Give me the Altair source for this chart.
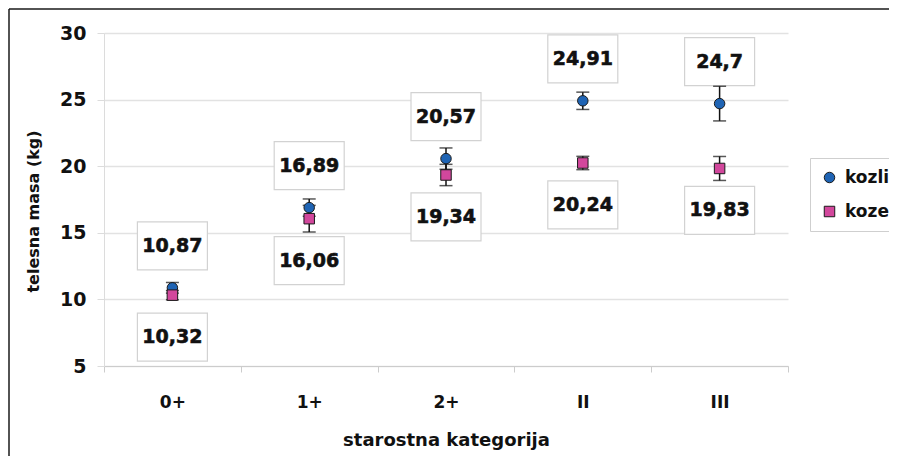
import altair as alt
import pandas as pd

categories = ["0+", "1+", "2+", "II", "III"]
series_names = ["kozli", "koze"]
kozli_mean = [10.87, 16.89, 20.57, 24.91, 24.70]
kozli_err = [0.40, 0.65, 0.80, 0.65, 1.30]
koze_mean = [10.32, 16.06, 19.34, 20.24, 19.83]
koze_err = [0.35, 1.00, 0.80, 0.50, 0.90]
y_ticks = [5, 10, 15, 20, 25, 30]
colors = ["#1f64b4", "#d2479c"]
shapes = ["circle", "square"]

rows = []
for s, means, errs, side in [("kozli", kozli_mean, kozli_err, 1), ("koze", koze_mean, koze_err, -1)]:
    for c, m, e in zip(categories, means, errs):
        rows.append(dict(cat=c, series=s, mean=m, lo=m - e, hi=m + e,
                         label=f"{m:g}".replace(".", ","), side=side))
df = pd.DataFrame(rows)

FONT = "DejaVu Sans"
W, H = 684, 333

x_enc = alt.X("cat:N", sort=categories, title="starostna kategorija",
              axis=alt.Axis(labelAngle=0, tickBand="extent", grid=False,
                            labelFontSize=17, labelFontWeight="bold", labelPadding=22,
                            tickSize=6, tickColor="#cccccc", domainColor="#cccccc",
                            titleFontSize=18, titleFontWeight="bold",
                            titleY=74, titleBaseline="middle"))
y_scale = alt.Scale(domain=[5, 30], nice=False, zero=False)
y_axis = alt.Axis(values=y_ticks, title="telesna masa (kg)", labelFontSize=19,
                  labelFontWeight="bold", labelPadding=11, tickSize=7,
                  tickColor="#dcdcdc", domainColor="#dcdcdc", gridColor="#e2e2e2",
                  gridWidth=1.5, titleFontSize=16, titleFontWeight="bold",
                  titleX=-71, titleY=178, titleAngle=-90, titleBaseline="middle",
                  titleAlign="center")

base = alt.Chart(df)
one = base.transform_filter("datum.cat == '0+' && datum.series == 'kozli'")

frame_top = one.mark_rule(color="#1a1a1a", strokeWidth=1.5).encode(
    x=alt.value(-95), x2=alt.value(785), y=alt.value(-24))
frame_left = one.mark_rule(color="#1a1a1a", strokeWidth=1.5).encode(
    x=alt.value(-95), y=alt.value(-24), y2=alt.value(600))

lab = base.transform_calculate(lab_y="datum.mean + datum.side * 3.15")

boxes = lab.mark_point(shape="M-1,-0.686L1,-0.686L1,0.686L-1,0.686Z", size=4900,
                       filled=True, fill="white", stroke="#d2d2d2", strokeWidth=1.2,
                       opacity=1).encode(
    x=x_enc, y=alt.Y("lab_y:Q", scale=y_scale, axis=y_axis))

texts = lab.mark_text(font=FONT, fontSize=19, fontWeight="bold", color="#111111",
                      stroke="#111111", strokeWidth=0.6, baseline="middle").encode(
    x=alt.X("cat:N", sort=categories), y=alt.Y("lab_y:Q", scale=y_scale),
    text="label:N")

rules = base.mark_rule(color="#111111", strokeWidth=1.5).encode(
    x=alt.X("cat:N", sort=categories), y=alt.Y("lo:Q", scale=y_scale), y2="hi:Q")

caps_lo = base.mark_tick(color="#111111", thickness=1.5, size=13).encode(
    x=alt.X("cat:N", sort=categories), y=alt.Y("lo:Q", scale=y_scale))
caps_hi = base.mark_tick(color="#111111", thickness=1.5, size=13).encode(
    x=alt.X("cat:N", sort=categories), y=alt.Y("hi:Q", scale=y_scale))

points = base.mark_point(filled=True, size=110, opacity=1, stroke="#1a1a1a",
                         strokeWidth=1).encode(
    x=alt.X("cat:N", sort=categories), y=alt.Y("mean:Q", scale=y_scale),
    color=alt.Color("series:N", scale=alt.Scale(domain=series_names, range=colors),
                    legend=alt.Legend(title=None, orient="none", legendX=706, legendY=125)),
    shape=alt.Shape("series:N", scale=alt.Scale(domain=series_names, range=shapes),
                    legend=alt.Legend(title=None, orient="none", legendX=706, legendY=125)))

chart = alt.layer(frame_top, frame_left, boxes, texts, rules, caps_lo, caps_hi, points).properties(
    width=W, height=H,
    padding={"left": 96, "top": 25, "right": 101, "bottom": 90},
    autosize=alt.AutoSizeParams(type="none"),
    background="white",
).configure_view(stroke=None).configure_axis(
    labelFont=FONT, titleFont=FONT, labelColor="#111111", titleColor="#111111"
).configure_legend(
    labelFont=FONT, labelFontSize=17, labelFontWeight="bold", labelColor="#111111",
    strokeColor="#cfcfcf", fillColor="white", padding=11, rowPadding=16,
    symbolSize=110, symbolStrokeColor="#1a1a1a", symbolStrokeWidth=1,
    labelOffset=7, cornerRadius=0
)

chart.save("out.html", embed_options={"renderer": "svg", "actions": False})
